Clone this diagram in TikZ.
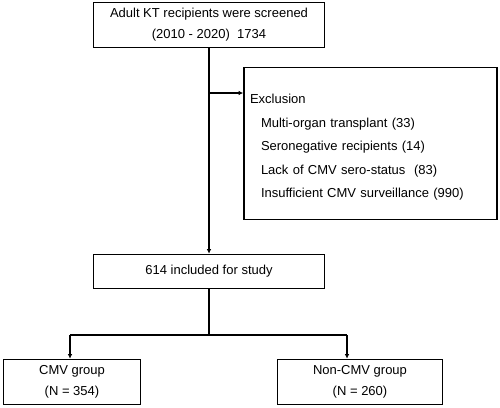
\documentclass[tikz,border=0pt]{standalone}
\usepackage{fontspec}
\setmainfont{Liberation Sans}
\usetikzlibrary{positioning}
\usetikzlibrary{arrows, arrows.meta, shapes, calc}

\begin{document}
\begin{tikzpicture}[x=1pt, y=-1pt, >={Latex[length=4.5pt, width=4.5pt]}, font=\fontsize{13}{21}\selectfont]%

            \tikzstyle{box} = [ rectangle, draw = black!100, line width = 1.6pt, align = center, inner sep = 0pt]
            \tikzstyle{excl} = [ rectangle, draw = black!100, line width = 1.6pt, align = left, text width = 241pt, inner sep = 6pt, font = \fontsize{13}{23.5}\selectfont]
            \tikzstyle{link} = [ line width = 1.6pt]
        %%
            \useasboundingbox (0,0) rectangle (500,407);
            \begin{scope}%
                %% Screening
                \node [box, minimum width = 231pt, minimum height = 45pt] (screen) at (209,25) {Adult KT recipients were screened\\(2010 - 2020)\ \ 1734};
                \node [excl, minimum height = 152pt] (exclusion) at (370.5,143.5) {\rule{0pt}{17.5pt}Exclusion\\
                    \hspace{11pt}Multi-organ transplant (33)\\
                    \hspace{11pt}Seronegative recipients (14)\\
                    \hspace{11pt}Lack of CMV sero-status\ \ (83)\\
                    \hspace{11pt}Insufficient CMV surveillance (990)};
                \node [box, minimum width = 231pt, minimum height = 34pt] (included) at (209,271.5) {614 included for study};

                \coordinate (branch) at (209,93);
                \draw[link, ->] (screen) -- (included);
                \draw[link, ->] (branch) -- (branch -| exclusion.west);

                %% Groups
                \node [box, minimum width = 137pt, minimum height = 45pt] (cmv) at (72,382) {CMV group\\(N = 354)};
                \node [box, minimum width = 165pt, minimum height = 45pt] (noncmv) at (360,382) {Non-CMV group\\(N = 260)};

                \coordinate (split) at (209,335);
                \coordinate (cmv_in) at (70,335);
                \coordinate (noncmv_in) at (347,335);
                \draw[link] (included) -- (split);
                \draw[link] (cmv_in) -- (noncmv_in);
                \draw[link, ->] (cmv_in) -- (cmv_in |- cmv.north);
                \draw[link, ->] (noncmv_in) -- (noncmv_in |- noncmv.north);
            \end{scope}%
\end{tikzpicture}
\end{document}
